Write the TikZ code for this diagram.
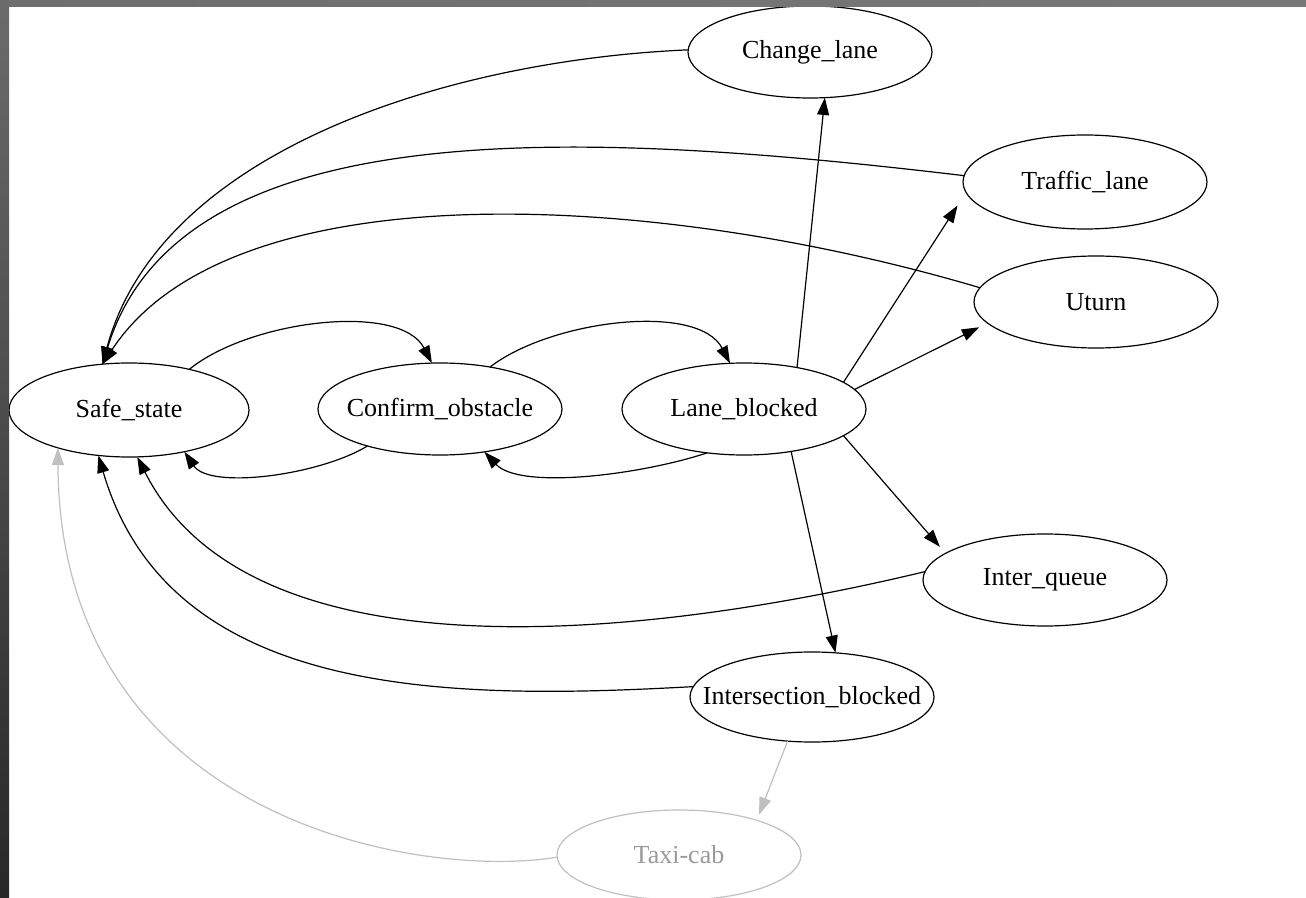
\documentclass[tikz,border=0pt]{standalone}
\usepackage{fontspec}
\setmainfont{Liberation Serif}
\usetikzlibrary{shapes.geometric,arrows.meta}
\definecolor{edgegray}{HTML}{C0C0C0}
\definecolor{textgray}{HTML}{9A9A9A}
\definecolor{stripA}{HTML}{6B6B6B}
\definecolor{stripB}{HTML}{282828}
\definecolor{topA}{HTML}{6E6E6E}
\definecolor{topB}{HTML}{8A8A8A}
\definecolor{topC}{HTML}{787878}
\newcommand\lbltext[1]{\makebox[0pt][c]{#1}}
\begin{document}
\begin{tikzpicture}[x=0.75pt,y=-0.75pt,
  state/.style={ellipse,draw=black,line width=0.9pt,inner sep=0pt,outer sep=0pt,
    minimum width=183pt,minimum height=69pt,font=\fontsize{19.5}{23}\selectfont},
  faint/.style={state,draw=edgegray,text=textgray},
  edge/.style={line width=0.9pt,-{Triangle[length=13pt,width=9pt]}},
  faintedge/.style={edge,draw=edgegray}]
\useasboundingbox (0,0) rectangle (1306,898);
\fill[white] (0,0) rectangle (1306,898);

% nodes
\node[state,minimum width=180pt,minimum height=70.5pt] (safe) at (129,410) {\lbltext{Safe\_state}};
\node[state] (confirm) at (440,409) {\lbltext{Confirm\_obstacle}};
\node[state] (lane) at (744,409) {\lbltext{Lane\_blocked}};
\node[state] (change) at (810,52) {\lbltext{Change\_lane}};
\node[state,minimum height=70.5pt] (traffic) at (1085,182) {\lbltext{Traffic\_lane}};
\node[state] (uturn) at (1096,302) {\lbltext{Uturn}};
\node[state] (interq) at (1045,580) {\lbltext{Inter\_queue}};
\node[state,minimum height=67.5pt] (interb) at (812,697) {\lbltext{Intersection\_blocked}};
\node[faint,minimum height=67.5pt] (taxi) at (679,855) {\lbltext{Taxi-cab}};

% edges between the row of states
\draw[edge] (safe.34) .. controls (250,320) and (400,302) .. (confirm.100);
\draw[edge] (confirm.-153) .. controls (320,475) and (210,490) .. (safe.-37);
\draw[edge] (confirm.40) .. controls (551,320) and (698,302) .. (lane.107);
\draw[edge] (lane.-130) .. controls (640,475) and (520,490) .. (confirm.-44);

% fan out of Lane_blocked
\draw[edge] (lane.38) -- (change.-72);
\draw[edge,shorten >=11.7pt] (lane.15) -- (traffic.-175);
\draw[edge,shorten >=7pt] (lane.10) -- (uturn.-169);
\draw[edge,shorten >=6.5pt] (lane.-15) -- (interq.165);
\draw[edge] (lane.-42) -- (interb.62);

% returns to Safe_state
\draw[edge] (change.179) .. controls (450,60) and (160,150) .. (safe.120);
\draw[edge] (traffic.177) .. controls (580,130) and (180,110) .. (safe.120);
\draw[edge] (uturn.173) .. controls (650,190) and (230,170) .. (safe.120);
\draw[edge] (interq.176) .. controls (640,640) and (250,680) .. (safe.-80);
\draw[edge] (interb.175) .. controls (450,700) and (170,700) .. (safe.-124);

% faint edges
\draw[faintedge,shorten >=4.5pt] (interb.-119) -- (taxi.24);
\draw[faintedge] (taxi.-179) .. controls (420,880) and (60,820) .. (safe.-152);

% window frame strips
\begin{scope}[x=0.75pt,y=0.75pt]
  \shade[left color=topA,middle color=topB,right color=topC] (0,0) rectangle (1306,-7);
  \shade[top color=stripA,bottom color=stripB] (0,0) rectangle (9,-898);
\end{scope}
\end{tikzpicture}
\end{document}
